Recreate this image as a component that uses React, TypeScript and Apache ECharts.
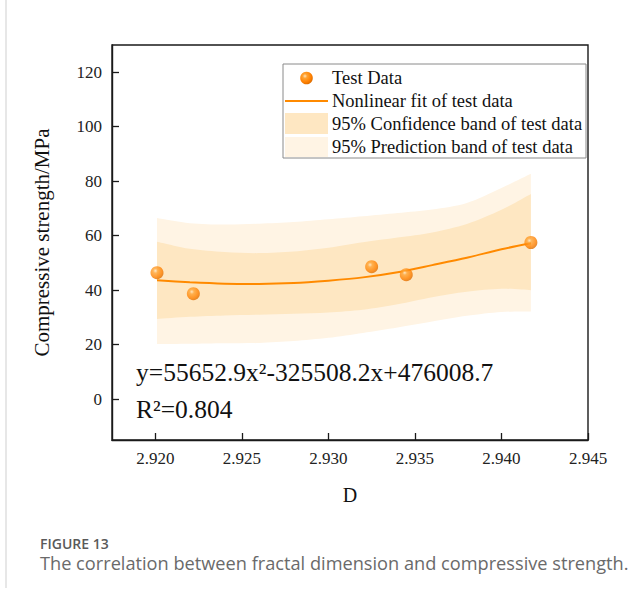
import React, { useEffect, useRef } from "react";
import * as echarts from "echarts";

// Test data (fractal dimension D vs compressive strength, MPa)
const testD = [2.9201, 2.9222, 2.9325, 2.9345, 2.9417];
const testStrength = [46.4, 38.7, 48.6, 45.7, 57.5];

// Curve / band grid
const gridD = [2.9201, 2.922, 2.924, 2.926, 2.928, 2.93, 2.932, 2.934, 2.936, 2.938, 2.94, 2.9417];
const fitValues = [43.6, 42.9, 42.4, 42.3, 42.6, 43.5, 44.7, 46.6, 49.2, 51.9, 55.0, 57.2];
const confUpper = [57.8, 55.2, 54.0, 53.6, 54.2, 55.6, 57.6, 59.3, 61.2, 64.3, 69.5, 75.3];
const confLower = [29.4, 30.2, 30.7, 31.0, 31.3, 31.8, 32.8, 34.8, 37.4, 39.4, 40.5, 40.0];
const predUpper = [66.5, 64.6, 64.1, 64.4, 65.0, 66.0, 67.1, 68.3, 69.6, 72.0, 77.5, 82.7];
const predLower = [20.2, 20.3, 20.5, 20.6, 21.3, 22.5, 24.3, 26.3, 28.5, 30.6, 32.0, 32.2];

const xTicks = [2.92, 2.925, 2.93, 2.935, 2.94, 2.945];
const yTicks = [0, 20, 40, 60, 80, 100, 120];

const legendLabels = [
  "Test Data",
  "Nonlinear fit of test data",
  "95% Confidence band of test data",
  "95% Prediction band of test data",
];

const SERIF = "'Liberation Serif', 'Times New Roman', serif";
const SANS = "'Open Sans', 'Noto Sans', sans-serif";
const ORANGE = "#FF8A00";
const CONF = "#FEE7C2";
const PRED = "#FFF4E4";

const sphere = {
  type: "radial",
  x: 0.38,
  y: 0.35,
  r: 0.7,
  colorStops: [
    { offset: 0, color: "#FFE4BD" },
    { offset: 0.25, color: "#FFA332" },
    { offset: 0.7, color: "#FF8000" },
    { offset: 1, color: "#D86A00" },
  ],
};

// Catmull-Rom through pixel points -> cubic bezier path commands (no leading M)
function splineCmds(pts: number[][], k = 0.9): string {
  let s = "";
  for (let i = 0; i < pts.length - 1; i++) {
    const p0 = pts[Math.max(0, i - 1)];
    const p1 = pts[i];
    const p2 = pts[i + 1];
    const p3 = pts[Math.min(pts.length - 1, i + 2)];
    const c1x = p1[0] + ((p2[0] - p0[0]) / 6) * k;
    const c1y = p1[1] + ((p2[1] - p0[1]) / 6) * k;
    const c2x = p2[0] - ((p3[0] - p1[0]) / 6) * k;
    const c2y = p2[1] - ((p3[1] - p1[1]) / 6) * k;
    s += ` C${c1x.toFixed(2)},${c1y.toFixed(2)} ${c2x.toFixed(2)},${c2y.toFixed(2)} ${p2[0].toFixed(2)},${p2[1].toFixed(2)}`;
  }
  return s;
}

function bandSeries(name: string, lower: number[], upper: number[], fill: string, z: number) {
  return {
    type: "custom",
    name,
    coordinateSystem: "cartesian2d",
    silent: true,
    z,
    data: gridD.map((d, i) => [d, lower[i], upper[i]]),
    encode: { x: 0, y: [1, 2] },
    renderItem: (params: any, api: any) => {
      if (params.dataIndex !== 0) return null;
      const up = gridD.map((d, i) => api.coord([d, upper[i]]));
      const lo = gridD.map((d, i) => api.coord([d, lower[i]])).reverse();
      const d =
        `M${up[0][0].toFixed(2)},${up[0][1].toFixed(2)}` +
        splineCmds(up) +
        ` L${lo[0][0].toFixed(2)},${lo[0][1].toFixed(2)}` +
        splineCmds(lo) +
        " Z";
      return {
        type: "path",
        shape: { pathData: d },
        style: { fill, stroke: null },
      };
    },
  };
}

export default function App() {
  const ref = useRef<HTMLDivElement>(null);
  useEffect(() => {
    if (!ref.current) return;
    const chart = echarts.init(ref.current, null, { renderer: "svg" });
    const pair = (ys: number[]) => gridD.map((d, i) => [d, ys[i]]);

    const option: any = {
      animation: false,
      backgroundColor: "#fff",
      grid: {
        left: 112,
        top: 45,
        right: 52,
        bottom: 154,
        show: true,
        borderColor: "#1a1a1a",
        borderWidth: 1.4,
        backgroundColor: "transparent",
      },
      xAxis: {
        type: "value",
        min: 2.9175,
        max: 2.945,
        z: 5,
        name: "D",
        nameLocation: "middle",
        nameGap: 45,
        nameTextStyle: { fontFamily: SERIF, fontSize: 20, color: "#111" },
        splitLine: { show: false },
        axisLine: { show: true, onZero: false, lineStyle: { color: "#1a1a1a", width: 1.4 } },
        axisTick: {
          show: true,
          inside: true,
          length: 7,
          customValues: xTicks,
          lineStyle: { color: "#1a1a1a", width: 1.3 },
        },
        axisLabel: {
          customValues: xTicks,
          formatter: (v: number) => v.toFixed(3),
          fontFamily: SERIF,
          fontSize: 17,
          color: "#222",
          margin: 10,
        },
      },
      yAxis: {
        type: "value",
        min: -15,
        max: 130,
        z: 5,
        name: "Compressive strength/MPa",
        nameLocation: "middle",
        nameRotate: 90,
        nameGap: 60,
        nameTextStyle: { fontFamily: SERIF, fontSize: 21, color: "#111" },
        splitLine: { show: false },
        axisLine: { show: true, onZero: false, lineStyle: { color: "#1a1a1a", width: 1.4 } },
        axisTick: {
          show: true,
          inside: true,
          length: 7,
          customValues: yTicks,
          lineStyle: { color: "#1a1a1a", width: 1.3 },
        },
        axisLabel: {
          customValues: yTicks,
          fontFamily: SERIF,
          fontSize: 17,
          color: "#222",
          margin: 10,
        },
      },
      series: [
        bandSeries(legendLabels[3], predLower, predUpper, PRED, 1),
        bandSeries(legendLabels[2], confLower, confUpper, CONF, 2),
        {
          type: "line",
          name: legendLabels[1],
          smooth: 0.3,
          showSymbol: false,
          symbol: "none",
          lineStyle: { color: ORANGE, width: 2 },
          data: pair(fitValues),
          z: 3,
        },
        {
          type: "scatter",
          name: legendLabels[0],
          symbol: "circle",
          symbolSize: 13,
          itemStyle: { color: sphere },
          data: testD.map((d, i) => [d, testStrength[i]]),
          z: 4,
        },
      ],
      graphic: [
        // page side rule
        {
          type: "line",
          shape: { x1: 6, y1: 0, x2: 6, y2: 588 },
          style: { stroke: "#cfcfcf", lineWidth: 1 },
          silent: true,
        },
        // legend
        {
          type: "rect",
          shape: { x: 283, y: 64, width: 303, height: 94 },
          style: { fill: "#fff", stroke: "#8a8a8a", lineWidth: 1 },
          z: 10,
        },
        {
          type: "circle",
          shape: { cx: 306.5, cy: 78, r: 6.3 },
          style: { fill: sphere },
          z: 11,
        },
        {
          type: "line",
          shape: { x1: 285, y1: 101, x2: 328, y2: 101 },
          style: { stroke: ORANGE, lineWidth: 2 },
          z: 11,
        },
        {
          type: "rect",
          shape: { x: 285, y: 113, width: 43, height: 21 },
          style: { fill: CONF },
          z: 11,
        },
        {
          type: "rect",
          shape: { x: 285, y: 137, width: 43, height: 20 },
          style: { fill: PRED },
          z: 11,
        },
        ...legendLabels.map((t, i) => ({
          type: "text",
          x: 332,
          y: 78 + i * 23,
          z: 11,
          style: {
            text: t,
            fontFamily: SERIF,
            fontSize: 18.5,
            fill: "#111",
            verticalAlign: "middle",
            align: "left",
          },
        })),
        // equation
        {
          type: "text",
          x: 136,
          y: 372,
          z: 11,
          style: {
            text: "y=55652.9x²-325508.2x+476008.7",
            fontFamily: SERIF,
            fontSize: 25.5,
            fill: "#111",
            verticalAlign: "middle",
          },
        },
        {
          type: "text",
          x: 136,
          y: 409,
          z: 11,
          style: {
            text: "R²=0.804",
            fontFamily: SERIF,
            fontSize: 25.5,
            fill: "#111",
            verticalAlign: "middle",
          },
        },
        // caption
        {
          type: "text",
          x: 40,
          y: 543,
          style: {
            text: "FIGURE 13",
            fontFamily: SANS,
            fontSize: 14,
            fontWeight: 600,
            fill: "#5a5a5a",
            verticalAlign: "middle",
          },
        },
        {
          type: "text",
          x: 40,
          y: 563,
          style: {
            text: "The correlation between fractal dimension and compressive strength.",
            fontFamily: SANS,
            fontSize: 18.2,
            fill: "#6a6a6a",
            verticalAlign: "middle",
          },
        },
      ],
    };
    chart.setOption(option);
    return () => chart.dispose();
  }, []);
  return (
    <div
      ref={ref}
      style={{ position: "absolute", left: 0, top: 0, width: 640, height: 594, background: "#fff" }}
    />
  );
}
